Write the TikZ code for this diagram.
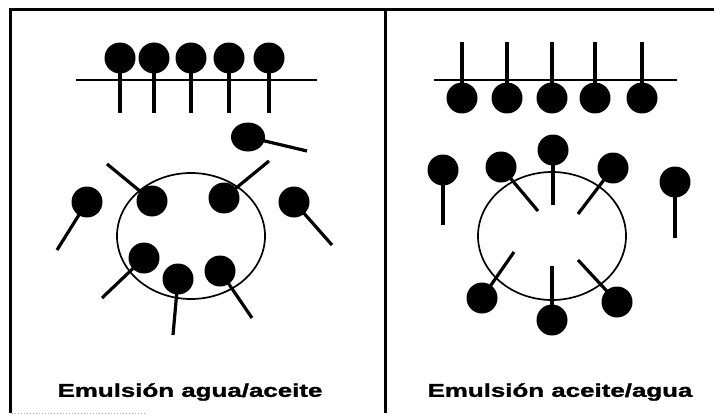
\documentclass[tikz,border=0pt]{standalone}
\usepackage{fontspec}
\usepackage{graphicx}
\setmainfont{Liberation Sans}
\newfontfamily\labfont[FakeBold=1.2]{Liberation Sans Bold}
\usetikzlibrary{shapes.geometric}

% one surfactant molecule: head node #1 at #2, tail running to #3
\newcommand\amph[4][]{%
  \node[head,#1] (#2) at (#3) {};
  \draw[tail] (#2.center) -- (#4);}

\begin{document}
\begin{tikzpicture}[x=1pt,y=-1pt,
  head/.style={circle,fill=black,draw=none,inner sep=0pt,minimum size=31pt},
  tail/.style={line width=3.2pt},
  frame/.style={line width=3pt},
  layer/.style={line width=2.6pt},
  drop/.style={line width=1.7pt},
  lab/.style={inner sep=0pt,font=\fontsize{18.5}{20}\labfont}]
\useasboundingbox (0,0) rectangle (714,417);

% frame and divider
\draw[frame] (714,10) -- (10,10) -- (10,413);
\draw[frame] (385,10) -- (385,413);
\draw[black!35,dotted,line width=1pt] (12,413) -- (145,413);

% ---------- water-in-oil ----------
\draw[layer] (76,80) -- (317,80);
\amph{la1}{120,58}{120,113}
\amph{la2}{154,58}{154,113}
\amph{la3}{191,58}{191,113}
\amph{la4}{229,58}{229,113}
\amph{la5}{269,58}{269,113}

\node[ellipse,fill=black,inner sep=0pt,minimum width=34pt,minimum height=29pt] (lf) at (248,137) {};
\draw[tail] (lf.center) -- (307,151);

\draw[drop] (191,236) ellipse [x radius=74pt, y radius=63pt];
\amph{lc1}{152,201}{107,164}
\amph{lc2}{224,198}{269,161}
\amph{lc3}{87,202}{57,250}
\amph{lc4}{294,202}{332,245}
\amph{lc5}{144,258}{102,298}
\amph{lc6}{178,279}{173,335}
\amph{lc7}{220,271}{252,318}

\node[lab] (lt) at (190,392) {\scalebox{1.4}[1]{Emulsión agua/aceite}};

% ---------- oil-in-water ----------
\draw[layer] (434,80) -- (677,80);
\amph{ra1}{462,98}{462,42}
\amph{ra2}{507,98}{507,42}
\amph{ra3}{552,98}{552,42}
\amph{ra4}{595,98}{595,42}
\amph{ra5}{642,98}{642,42}

\draw[drop] (552,236) ellipse [x radius=74pt, y radius=64pt];
\amph{rc1}{443,170}{443,225}
\amph{rc2}{501,167}{538,211}
\amph{rc3}{553,150}{553,205}
\amph{rc4}{613,168}{578,214}
\amph{rc5}{675,182}{675,238}
\amph{rc6}{482,298}{514,252}
\amph{rc7}{552,320}{552,266}
\amph{rc8}{617,302}{578,260}

\node[lab] (rt) at (560,392) {\scalebox{1.4}[1]{Emulsión aceite/agua}};
\end{tikzpicture}
\end{document}
